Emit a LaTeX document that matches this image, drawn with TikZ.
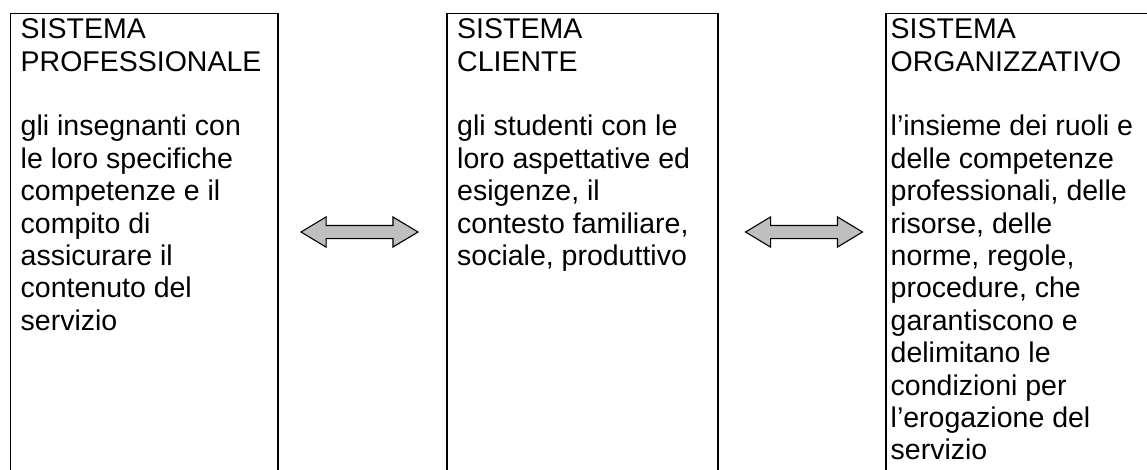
\documentclass[tikz,border=0pt]{standalone}
\usepackage{fontspec}
\setmainfont{Liberation Sans}
\usetikzlibrary{shapes.arrows,positioning}

\begin{document}
\begin{tikzpicture}[
  x=1pt, y=-1pt,
  sys/.style={draw, line width=1.6pt, minimum width=#1, minimum height=480pt, anchor=north west, inner sep=0pt},
  txt/.style={anchor=north west, inner sep=0pt, align=left, font=\fontsize{28.5}{32.4}\selectfont},
  dar/.style={double arrow, draw, line width=1.1pt, fill=black!25, minimum height=117pt,
    inner xsep=0pt, inner ysep=6pt, double arrow head extend=8.5pt, double arrow tip angle=62}
]
\path[use as bounding box, clip] (0,0) rectangle (1147,469);
% the three boxes run past the bottom edge
\node[sys=267.5pt] (prof) at (9.5,12.5) {};
\node[sys=271pt] (cli) at (446,12.5) {};
\node[sys=300pt] (org) at (885,12.5) {};
\node[txt] (profT) at ([xshift=11pt,yshift=-6pt]prof.north west)
  {SISTEMA\\PROFESSIONALE\\[32.4pt]gli insegnanti con\\le loro specifiche\\competenze e il\\compito di\\assicurare il\\contenuto del\\servizio};
\node[txt] (cliT) at ([xshift=11pt,yshift=-6pt]cli.north west)
  {SISTEMA\\CLIENTE\\[32.4pt]gli studenti con le\\loro aspettative ed\\esigenze, il\\contesto familiare,\\sociale, produttivo};
\node[txt] (orgT) at ([xshift=5.5pt,yshift=-6pt]org.north west)
  {SISTEMA\\ORGANIZZATIVO\\[32.4pt]l’insieme dei ruoli e\\delle competenze\\professionali, delle\\risorse, delle\\norme, regole,\\procedure, che\\garantiscono e\\delimitano le\\condizioni per\\l’erogazione del\\servizio};
% links between the systems
\node[dar] (profcli) at (359.5,232) {};
\node[dar] (cliorg) at (804,232) {};
\end{tikzpicture}
\end{document}
